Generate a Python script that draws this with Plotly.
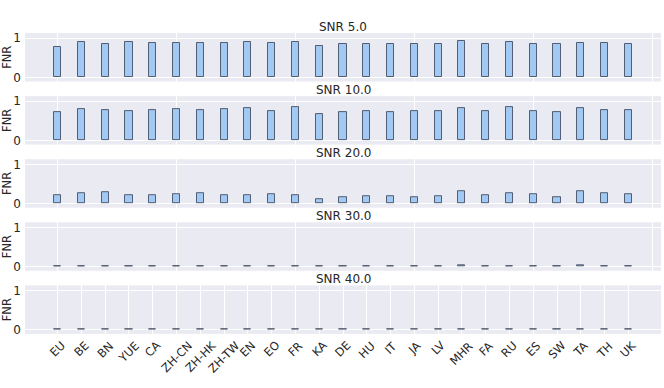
import plotly.graph_objects as go

categories = ["EU", "BE", "BN", "YUE", "CA", "ZH-CN", "ZH-HK", "ZH-TW", "EN", "EO",
              "FR", "KA", "DE", "HU", "IT", "JA", "LV", "MHR", "FA", "RU",
              "ES", "SW", "TA", "TH", "UK"]
snr_levels = ["5.0", "10.0", "20.0", "30.0", "40.0"]

fnr_snr5 = [0.78, 0.90, 0.86, 0.89, 0.87, 0.88, 0.88, 0.88, 0.90, 0.88,
            0.90, 0.80, 0.85, 0.84, 0.84, 0.84, 0.84, 0.92, 0.84, 0.90,
            0.86, 0.84, 0.88, 0.87, 0.86]
fnr_snr10 = [0.71, 0.79, 0.78, 0.75, 0.78, 0.81, 0.78, 0.80, 0.82, 0.76,
             0.85, 0.68, 0.73, 0.75, 0.73, 0.75, 0.75, 0.83, 0.75, 0.84,
             0.76, 0.73, 0.82, 0.78, 0.78]
fnr_snr20 = [0.21, 0.27, 0.29, 0.21, 0.21, 0.25, 0.26, 0.22, 0.22, 0.24,
             0.22, 0.12, 0.17, 0.18, 0.19, 0.16, 0.20, 0.32, 0.21, 0.26,
             0.24, 0.15, 0.32, 0.27, 0.25]
fnr_snr30 = [0.020, 0.010, 0.020, 0.010, 0.010, 0.015, 0.010, 0.015, 0.010, 0.020,
             0.006, 0.006, 0.006, 0.010, 0.010, 0.006, 0.015, 0.025, 0.015, 0.015,
             0.010, 0.010, 0.030, 0.020, 0.006]
fnr_snr40 = [0.003] * 25

series = [fnr_snr5, fnr_snr10, fnr_snr20, fnr_snr30, fnr_snr40]

W, H = 664, 388
ml, mr, mt, mb = 25, 3, 33, 54
plot_h = H - mt - mb
panel_h, step = 48.5, 63.1

BG = "#eaeaf2"
TXT = "#262626"
FONT = "DejaVu Sans"

fig = go.Figure()
idx = list(range(len(categories)))
annotations = []
for i, vals in enumerate(series):
    n = i + 1
    xa = "x" if n == 1 else f"x{n}"
    ya = "y" if n == 1 else f"y{n}"
    top_px = i * step
    bot_px = top_px + panel_h
    d0 = max(0.0, 1 - bot_px / plot_h)
    d1 = min(1.0, 1 - top_px / plot_h)
    fig.add_trace(go.Bar(
        x=idx, y=vals, width=0.3, xaxis=xa, yaxis=ya,
        marker=dict(color="#a1c9f4", line=dict(color="rgba(60,72,92,0.85)", width=1)),
        showlegend=False, hoverinfo="skip",
    ))
    last = (n == len(series))
    fig.layout[f"xaxis{n if n > 1 else ''}"] = dict(
        domain=[0, 1], anchor=ya, range=[-1.37, 25.37],
        tickmode="array",
        tickvals=idx if last else [0, 5, 10, 15, 20, 25],
        showticklabels=False, ticks="",
        showgrid=True, gridcolor="white", gridwidth=1, zeroline=False,
        showline=False,
    )
    fig.layout[f"yaxis{n if n > 1 else ''}"] = dict(
        domain=[d0, d1], anchor=xa, range=[-0.105, 1.13],
        tickmode="array", tickvals=[0, 1], ticktext=["0", "1"],
        tickfont=dict(size=12, color=TXT, family=FONT),
        showgrid=True, gridcolor="white", gridwidth=1, zeroline=False,
        title=dict(text="FNR", font=dict(size=11.5, color=TXT, family=FONT), standoff=2),
        automargin=False, ticks="", ticklabelstandoff=3,
    )
    annotations.append(dict(
        text=f"SNR {snr_levels[i]}", xref="paper", yref="paper",
        x=0.5, y=d1, xanchor="center", yanchor="middle", yshift=6,
        showarrow=False, font=dict(size=12, color=TXT, family=FONT),
    ))

for j, c in enumerate(categories):
    annotations.append(dict(
        text=c, xref="x5", yref="paper", x=j, y=0, yshift=-2,
        xanchor="center", yanchor="top", textangle=-45,
        showarrow=False, font=dict(size=11.5, color=TXT, family=FONT),
    ))

fig.update_layout(
    width=W, height=H,
    margin=dict(l=ml, r=mr, t=mt, b=mb),
    paper_bgcolor="white", plot_bgcolor=BG,
    bargap=0, annotations=annotations,
    font=dict(family=FONT, color=TXT),
)
fig.write_html("out.html", config={"displayModeBar": False},
               post_script="document.body.style.margin='0';document.body.style.overflow='hidden';")
